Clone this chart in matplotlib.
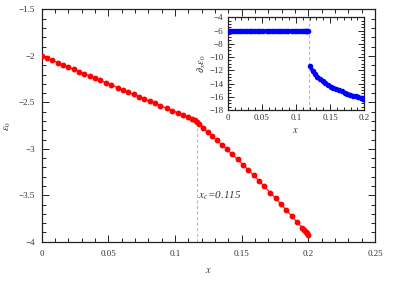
import numpy as np
import matplotlib
matplotlib.use('Agg')
import matplotlib.pyplot as plt
from matplotlib.ticker import MultipleLocator, FuncFormatter

plt.rcParams['font.family'] = ['Liberation Serif', 'DejaVu Serif']
plt.rcParams['mathtext.fontset'] = 'stix'

# --- Data ---
x_vals = [0.000, 0.004, 0.008, 0.012, 0.016, 0.020, 0.024, 0.028, 0.032, 0.036,
          0.040, 0.044, 0.048, 0.052, 0.057, 0.061, 0.065, 0.069, 0.073, 0.077,
          0.081, 0.085, 0.089, 0.094, 0.098, 0.102, 0.106, 0.110, 0.113, 0.115,
          0.1167, 0.1178, 0.121, 0.1245, 0.128, 0.1315, 0.135, 0.139, 0.143, 0.147,
          0.151, 0.155, 0.159, 0.163, 0.167, 0.1715, 0.1755, 0.1795, 0.1835, 0.1875,
          0.1915, 0.1955, 0.197, 0.198, 0.199, 0.200]

eps0 = [-2.000, -2.024, -2.048, -2.072, -2.096, -2.120, -2.144, -2.168, -2.192, -2.216,
        -2.240, -2.264, -2.288, -2.312, -2.342, -2.366, -2.390, -2.414, -2.438, -2.462,
        -2.486, -2.510, -2.534, -2.564, -2.588, -2.612, -2.636, -2.660, -2.678, -2.690,
        -2.706, -2.735, -2.780, -2.823, -2.866, -2.910, -2.955, -3.007, -3.060, -3.115,
        -3.170, -3.227, -3.285, -3.344, -3.404, -3.472, -3.534, -3.596, -3.659, -3.723,
        -3.787, -3.852, -3.876, -3.892, -3.908, -3.925]

deps0 = [-6.0, -6.0, -6.0, -6.0, -6.0, -6.0, -6.0, -6.0, -6.0, -6.0,
         -6.0, -6.0, -6.0, -6.0, -6.0, -6.0, -6.0, -6.0, -6.0, -6.0,
         -6.0, -6.0, -6.0, -6.0, -6.0, -6.0, -6.0, -6.0, -6.0, -6.0,
         -6.0, -6.0, -11.4, -12.1, -12.6, -13.0, -13.3, -13.65, -13.95, -14.2,
         -14.45, -14.65, -14.85, -15.05, -15.2, -15.4, -15.55, -15.7, -15.85, -15.95,
         -16.1, -16.2, -16.25, -16.28, -16.3, -16.33]

xc_main = 0.1165
xc_inset = 0.119
xc_label = r'$x_c$=0.115'

x_ticks = [0, 0.05, 0.1, 0.15, 0.2, 0.25]
inset_x_ticks = [0, 0.05, 0.1, 0.15, 0.2]

txt = '#333333'


def fmt(v, pos):
    return ('%g' % v).replace('-', '\u2212')


def style_axes(ax, fs, major_len, minor_len, pad):
    ax.tick_params(which='both', direction='in', top=True, right=True,
                   labelsize=fs, labelcolor=txt, color='#222222', width=0.7)
    ax.tick_params(which='major', length=major_len, pad=pad)
    ax.tick_params(which='minor', length=minor_len)
    for s in ax.spines.values():
        s.set_linewidth(0.9)
        s.set_color('#222222')
    ax.xaxis.set_major_formatter(FuncFormatter(fmt))
    ax.yaxis.set_major_formatter(FuncFormatter(fmt))


fig = plt.figure(figsize=(4.15, 2.81), dpi=100)

# --- main panel ---
ax = fig.add_axes([0.1005, 0.1399, 0.8031, 0.8263])
ax.plot([xc_main, xc_main], [-4, -2.78], color='#bbbbbb', lw=0.8,
        ls=(0, (3, 2)), zorder=1)
ax.plot(x_vals, eps0, color='red', lw=0.8, marker='o', ms=3.2,
        mec='red', mfc='red', zorder=3)
ax.set_xlim(0, 0.25)
ax.set_ylim(-4, -1.5)
ax.set_xticks(x_ticks)
ax.xaxis.set_minor_locator(MultipleLocator(0.01))
ax.yaxis.set_major_locator(MultipleLocator(0.5))
ax.yaxis.set_minor_locator(MultipleLocator(0.1))
style_axes(ax, 6.5, 5, 3, 6)
ax.tick_params(axis='y', pad=5)
ax.set_xlabel(r'$x$', fontsize=7.5, color=txt, labelpad=6)
ax.set_ylabel(r'$\varepsilon_0$', fontsize=7.5, color=txt, labelpad=4)
ax.text(xc_main + 0.001, -3.5, xc_label, style='italic', fontsize=8,
        color=txt, va='center', ha='left')

# --- inset ---
ins = fig.add_axes([0.5487, 0.6085, 0.3289, 0.3299])
ins.plot([xc_inset, xc_inset], [-18, -4], color='#bbbbbb', lw=0.8,
         ls=(0, (3, 2)), zorder=1)
ins.plot(x_vals[:32], deps0[:32], color='blue', lw=2.6, marker='o', ms=3,
         mec='blue', mfc='blue', solid_capstyle='round', zorder=3)
ins.plot(x_vals[32:], deps0[32:], color='blue', lw=2.6, marker='o', ms=3,
         mec='blue', mfc='blue', solid_capstyle='round', zorder=3)
ins.set_xlim(0, 0.2)
ins.set_ylim(-18, -4)
ins.set_xticks(inset_x_ticks)
ins.xaxis.set_minor_locator(MultipleLocator(0.01))
ins.yaxis.set_major_locator(MultipleLocator(2))
ins.yaxis.set_minor_locator(MultipleLocator(0.5))
style_axes(ins, 6.5, 4, 2, 3)
ins.set_xlabel(r'$x$', fontsize=7.5, color=txt, labelpad=3)
ins.set_ylabel(r'$\partial_x\varepsilon_0$', fontsize=7.5, color=txt, labelpad=1)

fig.savefig('out.png', dpi=100)
